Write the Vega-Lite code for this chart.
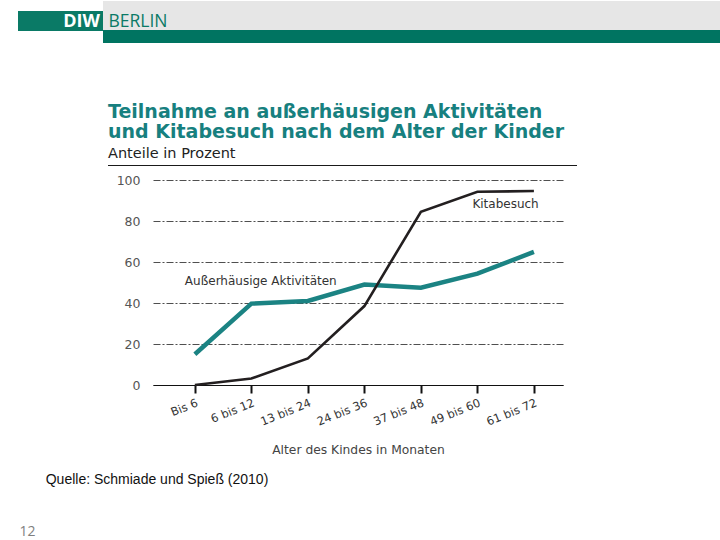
{
  "$schema": "https://vega.github.io/schema/vega-lite/v6.json",
  "padding": 0,
  "autosize": {"type": "pad"},
  "background": "white",
  "config": {
    "view": {"stroke": null},
    "font": "DejaVu Sans"
  },
  "datasets": {
    "main": [
      {"alter": "Bis 6", "serie": "Außerhäusige Aktivitäten", "anteil": 15},
      {"alter": "6 bis 12", "serie": "Außerhäusige Aktivitäten", "anteil": 39.7},
      {"alter": "13 bis 24", "serie": "Außerhäusige Aktivitäten", "anteil": 41},
      {"alter": "24 bis 36", "serie": "Außerhäusige Aktivitäten", "anteil": 49},
      {"alter": "37 bis 48", "serie": "Außerhäusige Aktivitäten", "anteil": 47.5},
      {"alter": "49 bis 60", "serie": "Außerhäusige Aktivitäten", "anteil": 54.3},
      {"alter": "61 bis 72", "serie": "Außerhäusige Aktivitäten", "anteil": 64.9},
      {"alter": "Bis 6", "serie": "Kitabesuch", "anteil": 0},
      {"alter": "6 bis 12", "serie": "Kitabesuch", "anteil": 3.2},
      {"alter": "13 bis 24", "serie": "Kitabesuch", "anteil": 13},
      {"alter": "24 bis 36", "serie": "Kitabesuch", "anteil": 38.5},
      {"alter": "37 bis 48", "serie": "Kitabesuch", "anteil": 84.5},
      {"alter": "49 bis 60", "serie": "Kitabesuch", "anteil": 94.3},
      {"alter": "61 bis 72", "serie": "Kitabesuch", "anteil": 94.6}
    ],
    "blank": [{}]
  },
  "spacing": 0,
  "vconcat": [
    {
      "spacing": 0,
      "hconcat": [
        {"width": 18, "height": 42, "data": {"name": "blank"}, "mark": {"type": "text", "text": ""}, "encoding": {}},
        {
          "spacing": 0,
          "vconcat": [
            {"width": 42, "height": 10, "data": {"name": "blank"}, "mark": {"type": "text", "text": ""}, "encoding": {}},
            {"width": 42, "height": 20, "view": {"fill": "#0a7a66", "stroke": null}, "data": {"name": "blank"}, "mark": {"type": "text", "text": ""}, "encoding": {}}
          ]
        },
        {
          "spacing": 0,
          "vconcat": [
            {"width": 43, "height": 10, "data": {"name": "blank"}, "mark": {"type": "text", "text": ""}, "encoding": {}},
            {"width": 43, "height": 20, "view": {"fill": "#0a7a66", "stroke": null}, "data": {"values": [{"label": "DIW"}]},
             "mark": {"type": "text", "font": "Open Sans", "fontWeight": "bold", "fontSize": 18, "color": "white", "align": "center", "baseline": "middle", "dy": 1},
             "encoding": {"text": {"field": "label"}}}
          ]
        },
        {
          "spacing": 0,
          "vconcat": [
            {
              "spacing": 0,
              "hconcat": [
                {"width": 70, "height": 29, "view": {"fill": "#e6e6e6", "stroke": null}, "data": {"values": [{"label": "BERLIN"}]},
                 "mark": {"type": "text", "font": "Open Sans", "fontSize": 17.5, "color": "#0a7a66", "align": "center", "baseline": "middle", "dy": 6},
                 "encoding": {"text": {"field": "label"}}},
                {"width": 547, "height": 29, "view": {"fill": "#e6e6e6", "stroke": null}, "data": {"name": "blank"}, "mark": {"type": "text", "text": ""}, "encoding": {}}
              ]
            },
            {"width": 617, "height": 13, "view": {"fill": "#007461", "stroke": null}, "data": {"name": "blank"}, "mark": {"type": "text", "text": ""}, "encoding": {}}
          ]
        }
      ]
    },
    {"width": 1, "height": 60, "data": {"name": "blank"}, "mark": {"type": "text", "text": ""}, "encoding": {}},
    {
      "spacing": 0,
      "hconcat": [
        {"width": 108, "height": 1, "data": {"name": "blank"}, "mark": {"type": "text", "text": "", "fontSize": 15}, "encoding": {}},
        {
          "width": 469, "height": 1,
          "view": {"fill": "#1a1a1a", "stroke": null},
          "title": {
            "text": ["Teilnahme an außerhäusigen Aktivitäten", "und Kitabesuch nach dem Alter der Kinder"],
            "subtitle": "Anteile in Prozent",
            "anchor": "start",
            "frame": "group",
            "font": "DejaVu Sans",
            "fontSize": 19,
            "fontWeight": "bold",
            "color": "#17807f",
            "lineHeight": 20,
            "subtitleFont": "DejaVu Sans",
            "subtitleFontSize": 14.5,
            "subtitleColor": "#222222",
            "subtitlePadding": 5,
            "offset": -1
          },
          "data": {"name": "blank"}, "mark": {"type": "text", "text": ""}, "encoding": {}
        }
      ]
    },
    {
      "spacing": 0,
      "hconcat": [
        {"width": 116, "height": 205, "data": {"name": "blank"}, "mark": {"type": "text", "text": ""}, "encoding": {}},
        {
          "width": 410,
          "height": 205,
          "data": {"name": "main"},
          "encoding": {
            "x": {
              "field": "alter",
              "type": "ordinal",
              "sort": ["Bis 6", "6 bis 12", "13 bis 24", "24 bis 36", "37 bis 48", "49 bis 60", "61 bis 72"],
              "scale": {"type": "point", "padding": 0.628, "align": 0.59},
              "axis": {
                "title": "Alter des Kindes in Monaten",
                "titleFont": "DejaVu Sans",
                "titleFontSize": 12.3,
                "titleFontWeight": "normal",
                "titleColor": "#444444",
                "titlePadding": 16,
                "labelAngle": -22,
                "labelFont": "DejaVu Sans",
                "labelFontSize": 11.5,
                "labelColor": "#333333",
                "labelPadding": 4,
                "domain": true,
                "domainColor": "#111111",
                "domainWidth": 1.2,
                "ticks": true,
                "tickColor": "#111111",
                "tickWidth": 2,
                "tickSize": 8,
                "grid": false
              }
            },
            "y": {
              "field": "anteil",
              "type": "quantitative",
              "scale": {"domain": [0, 100], "nice": false},
              "axis": {
                "title": null,
                "values": [0, 20, 40, 60, 80, 100],
                "grid": true,
                "gridColor": "#222222",
                "gridWidth": 0.8,
                "gridDash": [7, 2, 2, 2],
                "domain": false,
                "ticks": false,
                "labelPadding": 13,
                "labelFont": "DejaVu Sans",
                "labelFontSize": 12.5,
                "labelColor": "#555555"
              }
            }
          },
          "layer": [
            {
              "mark": {"type": "line", "strokeCap": "butt", "strokeJoin": "miter"},
              "encoding": {
                "color": {
                  "field": "serie",
                  "type": "nominal",
                  "scale": {"domain": ["Kitabesuch", "Außerhäusige Aktivitäten"], "range": ["#231f20", "#1b8383"]},
                  "legend": null
                },
                "strokeWidth": {
                  "field": "serie",
                  "type": "nominal",
                  "scale": {"domain": ["Kitabesuch", "Außerhäusige Aktivitäten"], "range": [2.6, 4.5]},
                  "legend": null
                }
              }
            },
            {
              "transform": [{"filter": "datum.serie === 'Außerhäusige Aktivitäten' && datum.alter === 'Bis 6'"}],
              "mark": {"type": "text", "align": "left", "baseline": "middle", "dx": -10, "font": "DejaVu Sans", "fontSize": 12, "color": "#333333"},
              "encoding": {
                "y": {"datum": 50.7},
                "text": {"field": "serie", "type": "nominal"}
              }
            },
            {
              "transform": [{"filter": "datum.serie === 'Kitabesuch' && datum.alter === '49 bis 60'"}],
              "mark": {"type": "text", "align": "left", "baseline": "middle", "dx": -5, "font": "DejaVu Sans", "fontSize": 12, "color": "#333333"},
              "encoding": {
                "y": {"datum": 88.3},
                "text": {"field": "serie", "type": "nominal"}
              }
            }
          ]
        }
      ]
    },
    {"width": 1, "height": 17, "data": {"name": "blank"}, "mark": {"type": "text", "text": ""}, "encoding": {}},
    {
      "spacing": 0,
      "hconcat": [
        {"width": 45, "height": 14, "data": {"name": "blank"}, "mark": {"type": "text", "text": ""}, "encoding": {}},
        {"width": 222, "height": 14, "data": {"values": [{"label": "Quelle: Schmiade und Spieß (2010)"}]},
         "mark": {"type": "text", "font": "Liberation Sans", "fontSize": 14, "color": "#111111", "align": "center", "baseline": "middle"},
         "encoding": {"text": {"field": "label"}}}
      ]
    },
    {"width": 1, "height": 38, "data": {"name": "blank"}, "mark": {"type": "text", "text": ""}, "encoding": {}},
    {
      "spacing": 0,
      "hconcat": [
        {"width": 18, "height": 14, "data": {"name": "blank"}, "mark": {"type": "text", "text": ""}, "encoding": {}},
        {"width": 19, "height": 14, "data": {"values": [{"label": "12"}]},
         "mark": {"type": "text", "font": "Open Sans", "fontSize": 14, "color": "#7f7f7f", "align": "center", "baseline": "middle"},
         "encoding": {"text": {"field": "label"}}}
      ]
    }
  ]
}
